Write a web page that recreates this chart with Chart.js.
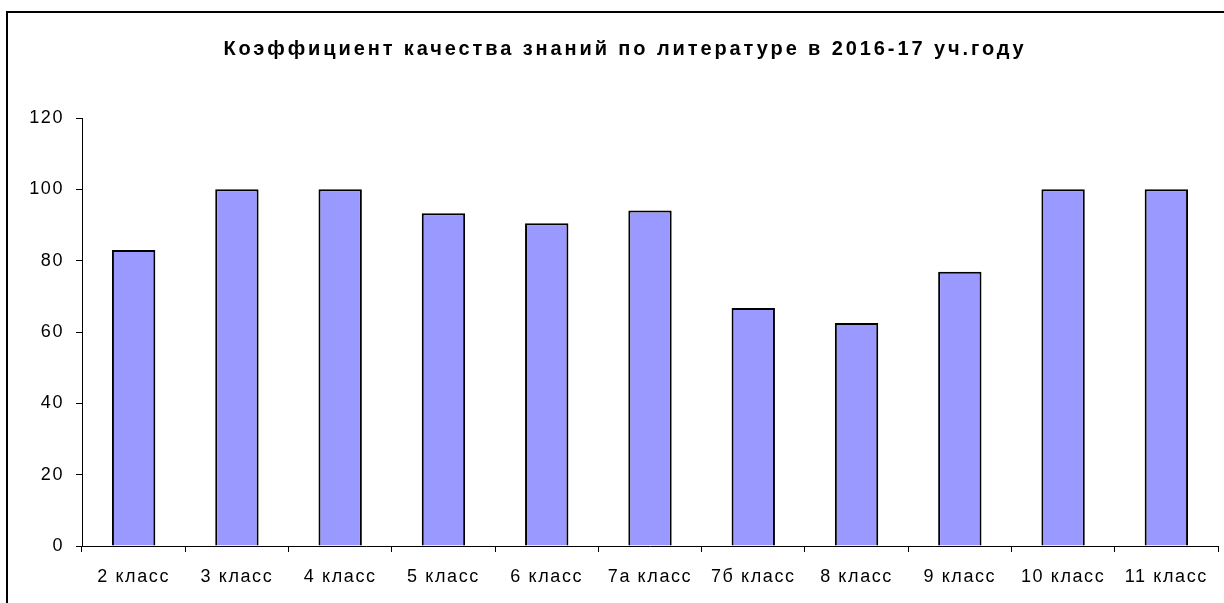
<!DOCTYPE html>
<html>
<head>
<meta charset="utf-8">
<script src="https://cdn.jsdelivr.net/npm/chart.js@4"></script>
<style>
html,body{margin:0;padding:0;background:#fff;}
#c{display:block;}
</style>
</head>
<body>
<canvas id="c" width="1224" height="603"></canvas>
<script>
const titleText = 'Коэффициент качества знаний по литературе в 2016-17 уч.году';
const categories = ['2 класс','3 класс','4 класс','5 класс','6 класс','7а класс','7б класс','8 класс','9 класс','10 класс','11 класс'];
const values = [83, 100, 100, 93.3, 90.5, 94.1, 66.7, 62.5, 76.9, 100, 100];
const yMin = 0, yMax = 120, yStep = 20;

const FONT = '"Liberation Sans", Arial, sans-serif';
const TICK_LS = '1.6px';
const TITLE_LS = '2.9px';

const framePlugin = {
  id: 'framePlugin',
  beforeUpdate(chart) { chart.ctx.letterSpacing = TICK_LS; },
  beforeDraw(chart) {
    const ctx = chart.ctx;
    ctx.letterSpacing = TICK_LS;
    ctx.save();
    ctx.fillStyle = '#fff';
    ctx.fillRect(0, 0, chart.width, chart.height);
    ctx.fillStyle = '#000';
    ctx.fillRect(6, 11, 2, chart.height - 11);
    ctx.fillRect(6, 11, chart.width - 6, 2);
    ctx.restore();
  },
  afterDraw(chart) {
    const ctx = chart.ctx;
    ctx.save();
    ctx.letterSpacing = TITLE_LS;
    ctx.font = 'bold 20px ' + FONT;
    ctx.fillStyle = '#000';
    ctx.textAlign = 'center';
    ctx.textBaseline = 'alphabetic';
    ctx.fillText(titleText, 625, 55);
    ctx.restore();
  }
};

new Chart(document.getElementById('c'), {
  type: 'bar',
  data: {
    labels: categories,
    datasets: [{
      data: values,
      backgroundColor: '#9999FF',
      borderColor: '#000',
      borderWidth: 2,
      barPercentage: 0.42,
      categoryPercentage: 1.0
    }]
  },
  options: {
    responsive: false,
    animation: false,
    devicePixelRatio: 1,
    layout: { padding: { top: 118, right: 6, left: 0, bottom: 0 } },
    plugins: {
      legend: { display: false },
      title: { display: false },
      tooltip: { enabled: false }
    },
    scales: {
      x: {
        offset: true,
        grid: { offset: true, drawOnChartArea: false, drawTicks: true, tickLength: 6, color: '#000', tickColor: '#000', lineWidth: 1 },
        border: { display: true, color: '#000', width: 1 },
        ticks: { color: '#000', font: { family: FONT, size: 18 }, padding: 14, maxRotation: 0, autoSkip: false },
        afterFit(scale) { scale.height = 57; }
      },
      y: {
        min: yMin, max: yMax,
        grid: { drawOnChartArea: false, drawTicks: true, tickLength: 6, color: '#000', tickColor: '#000', lineWidth: 1 },
        border: { display: true, color: '#000', width: 1 },
        ticks: { stepSize: yStep, color: '#000', font: { family: FONT, size: 18 }, padding: 12 },
        afterFit(scale) { scale.width = 82; }
      }
    }
  },
  plugins: [framePlugin]
});
</script>
</body>
</html>
